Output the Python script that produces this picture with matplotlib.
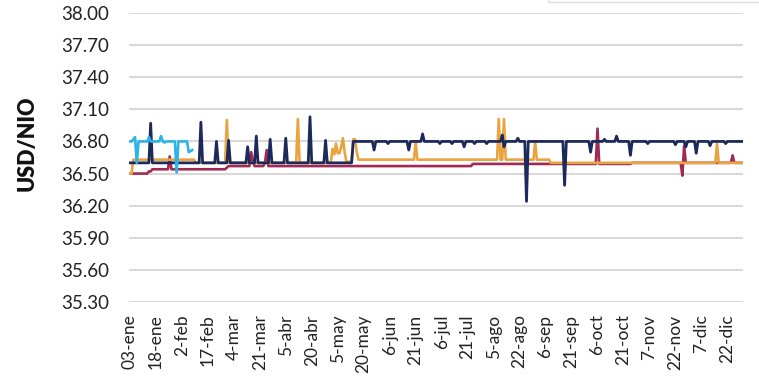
import numpy as np
import matplotlib
matplotlib.use("Agg")
import matplotlib.pyplot as plt
from matplotlib.patches import Rectangle

plt.rcParams['font.family'] = ['Lato', 'DejaVu Sans']

# daily series, one value per trading day (index 0 = 03-ene)
N_DAYS = 355
tick_labels = ["03-ene", "18-ene", "2-feb", "17-feb", "4-mar", "21-mar", "5-abr",
               "20-abr", "5-may", "20-may", "6-jun", "21-jun", "6-jul", "21-jul",
               "5-ago", "22-ago", "6-sep", "21-sep", "6-oct", "21-oct", "7-nov",
               "22-nov", "7-dic", "22-dic"]

# (first day, level) pairs plus single-day values
navy_levels = [(0, 36.60), (129, 36.80)]
navy_days = {12: 36.97, 41: 36.98, 50: 36.80, 57: 36.81, 68: 36.75, 73: 36.85,
             81: 36.82, 90: 36.83, 104: 37.03, 113: 36.81,
             141: 36.72, 149: 36.78, 161: 36.72, 169: 36.87, 179: 36.78,
             186: 36.78, 193: 36.75, 199: 36.78, 206: 36.78, 215: 36.86,
             216: 36.75, 224: 36.83, 229: 36.24, 251: 36.39, 266: 36.70,
             274: 36.82, 281: 36.85, 289: 36.67, 299: 36.78, 315: 36.77,
             321: 36.75, 327: 36.69, 335: 36.76, 344: 36.78}

orange_levels = [(0, 36.50), (2, 36.63), (38, 36.60), (125, 36.61),
                 (132, 36.63), (243, 36.60)]
orange_days = {56: 37.00, 97: 37.01, 117: 36.73, 118: 36.68, 119: 36.78,
               120: 36.69, 121: 36.69, 122: 36.75, 123: 36.83, 124: 36.70,
               129: 36.82, 130: 36.82, 131: 36.70, 165: 36.80, 213: 37.01,
               216: 37.01, 234: 36.79, 339: 36.78}

crimson_levels = [(0, 36.50), (11, 36.52), (13, 36.54), (57, 36.57),
                  (198, 36.59), (290, 36.60)]
crimson_days = {23: 36.66, 56: 36.555, 70: 36.70, 71: 36.62, 78: 36.60,
                79: 36.72, 270: 36.92, 319: 36.48, 320: 36.76, 348: 36.67}

blue_levels = [(0, 36.80)]
blue_end = 37
blue_days = {2: 36.82, 3: 36.84, 4: 36.60, 11: 36.84, 18: 36.85, 20: 36.79,
             27: 36.51, 34: 36.70, 35: 36.71, 36: 36.72}


def build(levels, days, end=N_DAYS):
    vals = np.full(N_DAYS, np.nan)
    bounds = [s for s, _ in levels[1:]] + [end]
    for (start, lvl), stop in zip(levels, bounds):
        vals[start:stop] = lvl
    for i, v in days.items():
        vals[i] = v
    return vals


x = np.arange(N_DAYS)
fig = plt.figure(figsize=(7.59, 3.79), dpi=100)
ax = fig.add_axes([129 / 759, 1 - 302 / 379, (743 - 129) / 759, (302 - 13) / 379])

ax.plot(x, build(crimson_levels, crimson_days), color="#a02a55", lw=1.9, zorder=3)
ax.plot(x, build(orange_levels, orange_days), color="#e9a440", lw=1.9, zorder=4)
ax.plot(x, build(navy_levels, navy_days), color="#1c2a5b", lw=2.0, zorder=5)
ax.plot(x, build(blue_levels, blue_days, blue_end), color="#2bb4e6", lw=1.9, zorder=6)

ax.set_ylim(35.30, 38.00)
ax.set_yticks(np.arange(35.30, 38.01, 0.30))
ax.yaxis.set_major_formatter(plt.FormatStrFormatter("%.2f"))
ax.set_xlim(-0.5, N_DAYS - 1)
ax.set_xticks(np.arange(len(tick_labels)) * 15)
ax.set_xticklabels(tick_labels, rotation=90)
ax.tick_params(axis="y", length=0, pad=14, labelsize=13.5, labelcolor="#222222")
ax.tick_params(axis="x", length=0, pad=9, labelsize=12.5, labelcolor="#222222")
ax.grid(axis="y", color="#d9d9d9", lw=1.5)
ax.set_axisbelow(True)
for s in ax.spines.values():
    s.set_visible(False)

fig.text(27 / 759, 1 - 143 / 379, "USD/NIO", rotation=90, ha="center", va="center",
         fontsize=15.5, fontweight="heavy", color="#111111")

# top edge of the legend box, cut by the frame
fig.patches.append(Rectangle((548 / 759, 1 - 2 / 379), 0.4, 0.05,
                             transform=fig.transFigure, fill=False,
                             edgecolor="#e0e0e0", lw=1.0))

fig.savefig("out.png", dpi=100)
